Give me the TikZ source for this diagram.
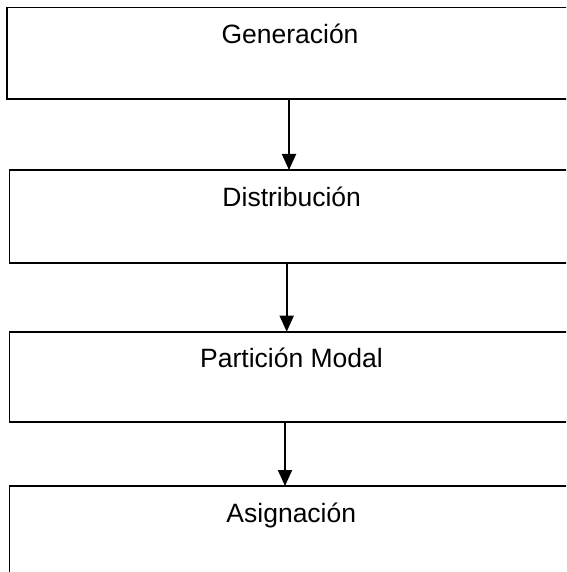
\documentclass[tikz,border=0pt]{standalone}
\usepackage{fontspec}
\setmainfont{Liberation Sans}
\usetikzlibrary{arrows.meta}
\begin{document}
\begin{tikzpicture}[x=1pt,y=-1pt,
  box/.style={draw=black,line width=1.7pt,rectangle,minimum width=#1,inner sep=0pt,outer sep=0pt},
  lbl/.style={anchor=base,inner sep=0pt,font=\fontsize{26.5}{31}\selectfont},
  arr/.style={line width=1.8pt,-{Triangle[width=14pt,length=16pt]}}]
\useasboundingbox (0,0) rectangle (566,572);
\clip (0,0) rectangle (566,572);
\node[box=612.7pt,minimum height=91.5pt] (b1) at (313.65,53.25) {};
\node[box=610.5pt,minimum height=93pt]   (b2) at (314.75,216.5) {};
\node[box=610.5pt,minimum height=90pt]   (b3) at (314.75,376.7) {};
\node[box=610.5pt,minimum height=134pt]  (b4) at (314.75,553) {};
\node[lbl] (t1) at (290,43.5) {Generación};
\node[lbl] (t2) at (291.7,206) {Distribución};
\node[lbl] (t3) at (291.5,367) {Partición Modal};
\node[lbl] (t4) at (291.3,522) {Asignación};
\coordinate (x1) at (289,0);
\coordinate (x2) at (286.7,0);
\coordinate (x3) at (285,0);
\draw[arr] (x1 |- b1.south) -- (x1 |- b2.north);
\draw[arr] (x2 |- b2.south) -- (x2 |- b3.north);
\draw[arr] (x3 |- b3.south) -- (x3 |- b4.north);
\end{tikzpicture}
\end{document}
